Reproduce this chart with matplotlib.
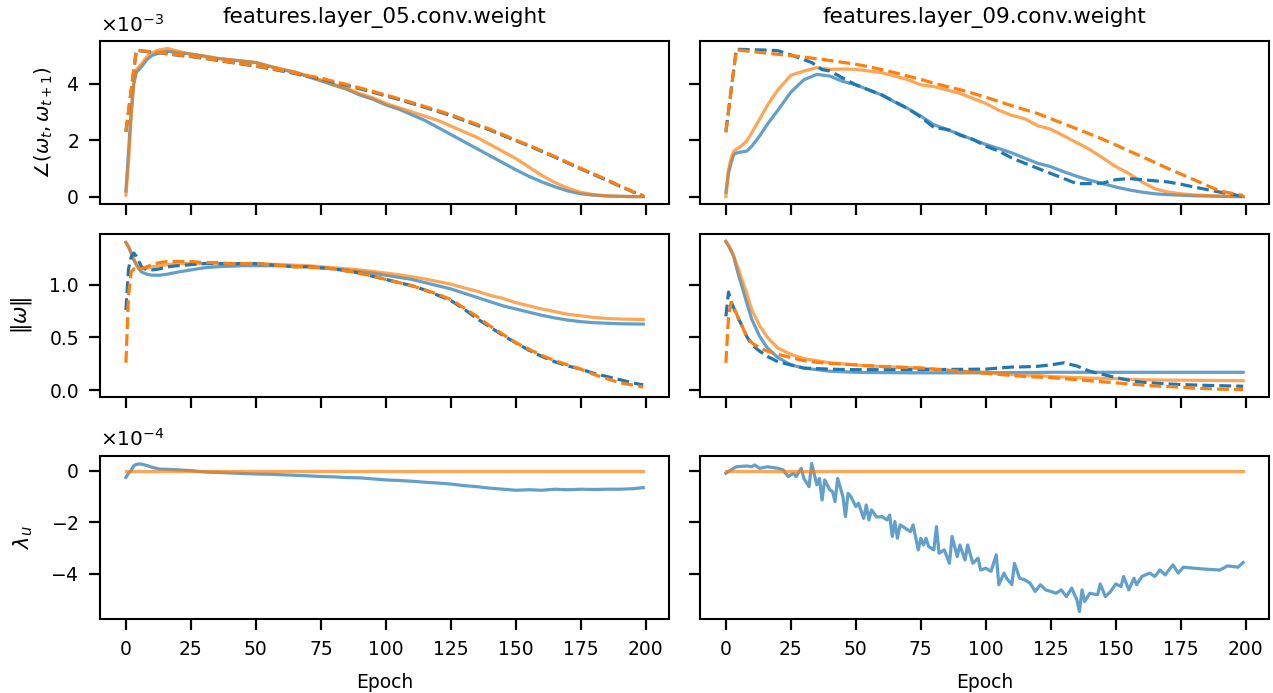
import numpy as np
import matplotlib
matplotlib.use("Agg")
import matplotlib.pyplot as plt

# epochs used for most series
EP = [0, 1, 2, 3, 4, 5, 6, 8, 10, 13, 16, 20, 25, 30, 35, 40, 45, 50, 55, 60,
      65, 70, 75, 80, 85, 90, 95, 100, 105, 110, 115, 120, 125, 130, 135, 140,
      145, 150, 155, 160, 165, 170, 175, 180, 185, 190, 195, 199]
# the dashed angle curves jump from epoch 0 straight to epoch 4
EP_DASH = [0, 4, 5, 6, 8, 10, 13, 16, 20, 25, 30, 35, 40, 45, 50, 55, 60,
           65, 70, 75, 80, 85, 90, 95, 100, 105, 110, 115, 120, 125, 130, 135, 140,
           145, 150, 155, 160, 165, 170, 175, 180, 185, 190, 195, 199]

# ---- layer_05, angle (x1e-3)
ang05_blue = [0.2, 1.6, 3.0, 4.0, 4.4, 4.5, 4.6, 4.85, 5.0, 5.1, 5.15, 5.1, 5.05, 4.98, 4.9, 4.85,
              4.8, 4.75, 4.62, 4.5, 4.4, 4.25, 4.1, 3.95, 3.8, 3.6, 3.45, 3.25, 3.1, 2.9, 2.7,
              2.45, 2.2, 1.95, 1.7, 1.45, 1.2, 0.95, 0.72, 0.52, 0.35, 0.2, 0.1, 0.05, 0.02,
              0.01, 0.0, 0.0]
ang05_orange = [0.05, 1.2, 2.8, 4.0, 4.5, 4.6, 4.7, 4.95, 5.1, 5.2, 5.25, 5.15, 5.05, 4.98, 4.9,
                4.85, 4.8, 4.75, 4.63, 4.52, 4.42, 4.28, 4.13, 3.98, 3.83, 3.65, 3.5, 3.3, 3.15,
                3.0, 2.85, 2.7, 2.5, 2.3, 2.1, 1.85, 1.6, 1.35, 1.05, 0.75, 0.5, 0.3, 0.15,
                0.07, 0.03, 0.01, 0.0, 0.0]
ang05_blue_d = [2.3, 5.18, 5.17, 5.16, 5.14, 5.12, 5.09, 5.06, 5.01, 4.96, 4.9, 4.83, 4.76, 4.69,
                4.62, 4.54, 4.45, 4.36, 4.26, 4.17, 4.05, 3.94, 3.82, 3.7, 3.57, 3.44, 3.3,
                3.16, 3.02, 2.87, 2.7, 2.53, 2.36, 2.17, 1.98, 1.8, 1.6, 1.4, 1.19, 0.98, 0.78,
                0.58, 0.37, 0.17, 0.03]
ang05_orange_d = [2.3, 5.2, 5.18, 5.17, 5.15, 5.13, 5.1, 5.07, 5.02, 4.97, 4.91, 4.84, 4.77,
                  4.7, 4.63, 4.55, 4.47, 4.38, 4.28, 4.2, 4.08, 3.97, 3.85, 3.73, 3.6, 3.47,
                  3.33, 3.19, 3.05, 2.9, 2.73, 2.56, 2.39, 2.2, 2.0, 1.82, 1.62, 1.42, 1.21,
                  1.0, 0.8, 0.6, 0.38, 0.18, 0.03]

# ---- layer_09, angle (x1e-3)
ang09_blue = [0.16, 0.82, 1.2, 1.49, 1.54, 1.57, 1.58, 1.61, 1.79, 2.15, 2.57, 3.06, 3.7, 4.14,
              4.33, 4.27, 4.08, 3.96, 3.78, 3.6, 3.35, 3.12, 2.85, 2.55, 2.38, 2.2, 2.02, 1.85,
              1.7, 1.55, 1.36, 1.18, 1.06, 0.88, 0.72, 0.58, 0.46, 0.34, 0.24, 0.16, 0.1,
              0.07, 0.05, 0.03, 0.02, 0.01, 0.0, 0.0]
ang09_orange = [0.0, 0.94, 1.35, 1.6, 1.68, 1.73, 1.8, 1.97, 2.27, 2.75, 3.24, 3.78, 4.3, 4.45,
                4.57, 4.51, 4.52, 4.51, 4.45, 4.39, 4.27, 4.14, 3.96, 3.9, 3.78, 3.66, 3.48,
                3.3, 3.06, 2.88, 2.76, 2.51, 2.39, 2.15, 1.91, 1.67, 1.37, 1.06, 0.82, 0.52,
                0.28, 0.16, 0.1, 0.06, 0.04, 0.02, 0.01, 0.0]
EP_DASH09 = [0, 4, 8, 12, 16, 20, 26, 33, 37, 40, 45, 50, 55, 60, 70, 75, 80, 85,
             87, 90, 95, 100, 105, 110, 115, 120, 125, 130, 135, 140, 145, 150, 155, 160,
             165, 170, 175, 180, 185, 190, 195, 199]
ang09_blue_d = [2.3, 5.22, 5.21, 5.2, 5.19, 5.17, 4.99, 4.75, 4.5, 4.45, 4.2, 3.96, 3.78,
                3.6, 3.12, 2.82, 2.45, 2.38, 2.33, 2.18, 2.03, 1.79, 1.61, 1.37, 1.18, 1.0,
                0.82, 0.64, 0.46, 0.46, 0.48, 0.6, 0.64, 0.6, 0.56, 0.52, 0.44, 0.34, 0.25,
                0.16, 0.08, 0.0]
EP_DASH09_O = [0, 4, 5, 6, 8, 10, 13, 16, 20, 26, 32, 38, 44, 50, 55, 60, 65, 70, 75, 80,
               85, 90, 95, 100, 105, 110, 115, 120, 125, 130, 135, 140, 145, 150, 155, 160,
               165, 170, 175, 180, 185, 190, 199]
ang09_orange_d = [2.27, 5.2, 5.19, 5.18, 5.16, 5.14, 5.11, 5.08, 5.04, 4.99, 4.92, 4.85, 4.77,
                  4.69, 4.6, 4.5, 4.39, 4.27, 4.15, 4.02, 3.9, 3.79, 3.66, 3.52, 3.37, 3.22,
                  3.08, 2.94, 2.76, 2.58, 2.4, 2.22, 2.03, 1.83, 1.62, 1.42, 1.21, 1.0, 0.8,
                  0.6, 0.4, 0.2, 0.04]

# ---- layer_05, weight norm
nrm05_blue = [1.40, 1.36, 1.3, 1.24, 1.19, 1.15, 1.12, 1.10, 1.09, 1.09, 1.10, 1.12, 1.14, 1.16,
              1.17, 1.175, 1.18, 1.18, 1.18, 1.18, 1.175, 1.17, 1.16, 1.15, 1.14, 1.125, 1.11,
              1.09, 1.07, 1.05, 1.02, 0.99, 0.96, 0.92, 0.88, 0.84, 0.80, 0.77, 0.74, 0.71,
              0.685, 0.665, 0.65, 0.64, 0.635, 0.63, 0.628, 0.627]
nrm05_orange = [1.40, 1.36, 1.3, 1.24, 1.19, 1.16, 1.15, 1.155, 1.17, 1.18, 1.19, 1.2, 1.2, 1.2,
                1.2, 1.2, 1.2, 1.2, 1.195, 1.19, 1.185, 1.18, 1.17, 1.16, 1.15, 1.14, 1.125,
                1.11, 1.095, 1.075, 1.055, 1.03, 1.005, 0.97, 0.94, 0.9, 0.87, 0.83, 0.8, 0.77,
                0.745, 0.72, 0.705, 0.69, 0.68, 0.675, 0.672, 0.67]
nrm05_blue_d = [0.76, 1.15, 1.26, 1.30, 1.27, 1.22, 1.17, 1.14, 1.14, 1.15, 1.17, 1.18, 1.19,
                1.2, 1.2, 1.2, 1.2, 1.2, 1.19, 1.18, 1.17, 1.17, 1.16, 1.15, 1.13, 1.11, 1.08,
                1.05, 1.02, 0.99, 0.95, 0.9, 0.85, 0.77, 0.68, 0.6, 0.52, 0.45, 0.38, 0.32,
                0.27, 0.23, 0.2, 0.16, 0.13, 0.1, 0.07, 0.05]
nrm05_orange_d = [0.26, 0.9, 1.12, 1.15, 1.14, 1.14, 1.15, 1.17, 1.19, 1.21, 1.22, 1.22, 1.22,
                  1.21, 1.21, 1.2, 1.2, 1.2, 1.19, 1.18, 1.17, 1.165, 1.16, 1.15, 1.13, 1.11,
                  1.08, 1.05, 1.02, 0.99, 0.95, 0.91, 0.86, 0.78, 0.7, 0.61, 0.53, 0.45, 0.39,
                  0.33, 0.28, 0.24, 0.2, 0.15, 0.11, 0.07, 0.05, 0.03]

# ---- layer_09, weight norm
nrm09_blue = [1.41, 1.37, 1.32, 1.27, 1.17, 1.08, 1.0, 0.83, 0.67, 0.51, 0.40, 0.31, 0.24, 0.21,
              0.195, 0.18, 0.175, 0.17, 0.168, 0.167, 0.166, 0.165, 0.165, 0.165, 0.165, 0.165,
              0.165, 0.165, 0.166, 0.167, 0.168, 0.169, 0.17, 0.17, 0.17, 0.17, 0.17, 0.17,
              0.17, 0.17, 0.17, 0.17, 0.17, 0.17, 0.17, 0.17, 0.17, 0.17]
nrm09_orange = [1.41, 1.37, 1.33, 1.27, 1.2, 1.14, 1.06, 0.92, 0.76, 0.61, 0.5, 0.4, 0.34, 0.30,
                0.28, 0.26, 0.25, 0.24, 0.23, 0.225, 0.22, 0.215, 0.21, 0.2, 0.19, 0.18, 0.175,
                0.17, 0.16, 0.15, 0.145, 0.14, 0.13, 0.125, 0.12, 0.115, 0.112, 0.11, 0.105,
                0.1, 0.098, 0.096, 0.095, 0.094, 0.093, 0.092, 0.091, 0.09]
nrm09_blue_d = [0.70, 0.93, 0.84, 0.78, 0.72, 0.67, 0.62, 0.51, 0.43, 0.37, 0.32, 0.27, 0.24,
                0.21, 0.205, 0.2, 0.197, 0.195, 0.195, 0.195, 0.195, 0.195, 0.195, 0.196, 0.197,
                0.198, 0.199, 0.2, 0.21, 0.22, 0.222, 0.227, 0.24, 0.26, 0.23, 0.18, 0.15,
                0.12, 0.095, 0.076, 0.068, 0.06, 0.054, 0.05, 0.046, 0.043, 0.04, 0.038]
nrm09_orange_d = [0.26, 0.7, 0.83, 0.79, 0.73, 0.67, 0.62, 0.51, 0.45, 0.40, 0.37, 0.34, 0.31,
                  0.28, 0.265, 0.255, 0.247, 0.24, 0.232, 0.225, 0.22, 0.215, 0.21, 0.2, 0.19,
                  0.18, 0.17, 0.16, 0.15, 0.14, 0.13, 0.125, 0.12, 0.11, 0.1, 0.09, 0.08, 0.07,
                  0.06, 0.05, 0.04, 0.035, 0.03, 0.02, 0.015, 0.01, 0.008, 0.006]

# ---- layer_05, lambda_u (x1e-4)
lam05_blue = [-0.26, -0.1, 0.0, 0.19, 0.24, 0.26, 0.25, 0.2, 0.13, 0.06, 0.05, 0.03, 0.0, -0.05,
              -0.07, -0.09, -0.11, -0.13, -0.14, -0.16, -0.18, -0.2, -0.23, -0.24, -0.27,
              -0.28, -0.32, -0.36, -0.38, -0.41, -0.45, -0.48, -0.52, -0.58, -0.62, -0.68,
              -0.72, -0.76, -0.74, -0.76, -0.72, -0.74, -0.72, -0.73, -0.72, -0.72, -0.7, -0.66]
lam05_orange = [0.0] * len(EP)

# ---- layer_09, lambda_u (x1e-4), noisy so read more densely
LAM09_EP = [0, 2, 4, 8, 10, 11, 13, 16, 20, 22, 24, 26, 27, 29, 30, 32, 33, 35, 36, 37, 38,
            40, 41, 42, 43, 45, 46, 47, 48, 50, 51, 53, 54, 55, 56, 58, 60, 62, 63, 64, 65,
            66, 67, 69, 71, 72, 74, 75, 76, 77, 78, 80, 81, 82, 84, 86, 87, 89, 90, 92, 93,
            95, 97, 98, 100, 102, 104, 105, 107, 108, 110, 111, 113, 115, 117, 119, 121,
            123, 125, 127, 129, 131, 133, 135, 136, 137, 138, 140, 143, 144, 146, 148, 150,
            152, 153, 155, 157, 158, 160, 163, 165, 167, 169, 170, 172, 174, 176, 180, 185,
            190, 193, 197, 199]
lam09_blue = [-0.1, 0.03, 0.15, 0.18, 0.15, 0.22, 0.09, 0.15, 0.09, 0.03, -0.23, -0.1, -0.23,
              0.09, -0.3, -0.62, 0.28, -0.55, -0.3, -1.14, -0.36, -0.75, -0.81, -1.2, -0.3,
              -1.0, -1.78, -0.88, -1.0, -1.39, -1.26, -1.85, -1.33, -1.91, -1.52, -1.8, -1.78,
              -1.91, -1.72, -2.55, -1.97, -2.62, -2.1, -2.23, -2.36, -2.1, -3.07, -2.62, -2.88,
              -2.62, -2.94, -3.07, -2.17, -3.2, -3.07, -3.59, -2.55, -3.33, -2.88, -3.46, -2.88,
              -3.59, -3.39, -3.85, -3.78, -3.9, -3.26, -4.42, -3.97, -4.17, -4.42, -3.59, -4.17,
              -4.23, -4.36, -4.68, -4.42, -4.62, -4.68, -4.75, -4.62, -4.88, -4.55, -5.0, -5.46,
              -4.62, -5.07, -4.75, -4.81, -4.39, -4.88, -4.68, -4.39, -4.49, -4.1, -4.62, -4.17,
              -4.42, -4.1, -3.97, -4.1, -3.85, -4.04, -3.9, -3.65, -3.97, -3.74, -3.78, -3.82,
              -3.85, -3.69, -3.74, -3.56]
lam09_orange = [0.0] * len(EP)

titles = ["features.layer_05.conv.weight", "features.layer_09.conv.weight"]
ylabels = [r"$\angle(\omega_t, \omega_{t+1})$", r"$\Vert\omega\Vert$", r"$\lambda_u$"]

BLUE = "#1f77b4"
ORANGE = "#ff7f0e"
LW = 2.3

fig, axes = plt.subplots(3, 2, figsize=(12.73, 6.93), dpi=100, sharex=True, sharey="row")

lefts = [0.0786, 0.5499]
bottoms = [0.7056, 0.4271, 0.1068]
for r in range(3):
    for c in range(2):
        axes[r][c].set_position([lefts[c], bottoms[r], 0.447, 0.2352])

def draw(ax, ep_s, bs, os_, ep_bd=None, bd=None, ep_od=None, od=None, scale=1.0):
    ax.plot(ep_s[0], np.array(bs) * scale, color=BLUE, lw=LW, alpha=0.7)
    ax.plot(ep_s[1], np.array(os_) * scale, color=ORANGE, lw=LW, alpha=0.7)
    if bd is not None:
        ax.plot(ep_bd, np.array(bd) * scale, color=BLUE, lw=LW, ls="--")
        ax.plot(ep_od, np.array(od) * scale, color=ORANGE, lw=LW, ls="--")

draw(axes[0][0], (EP, EP), ang05_blue, ang05_orange, EP_DASH, ang05_blue_d, EP_DASH, ang05_orange_d, 1e-3)
draw(axes[0][1], (EP, EP), ang09_blue, ang09_orange, EP_DASH09, ang09_blue_d, EP_DASH09_O, ang09_orange_d, 1e-3)
draw(axes[1][0], (EP, EP), nrm05_blue, nrm05_orange, EP, nrm05_blue_d, EP, nrm05_orange_d)
draw(axes[1][1], (EP, EP), nrm09_blue, nrm09_orange, EP, nrm09_blue_d, EP, nrm09_orange_d)
draw(axes[2][0], (EP, EP), lam05_blue, lam05_orange, scale=1e-4)
draw(axes[2][1], (LAM09_EP, EP), lam09_blue, lam09_orange, scale=1e-4)

for r in range(3):
    for c in range(2):
        ax = axes[r][c]
        ax.tick_params(length=7.7, width=1.6, labelsize=13.5, pad=7.5)
        for sp in ax.spines.values():
            sp.set_linewidth(1.5)
        ax.yaxis.offsetText.set_fontsize(14.5)
        ax.yaxis.OFFSETTEXTPAD = 7
axes[0][0].set_ylabel(ylabels[0], fontsize=14, labelpad=8)
axes[1][0].set_ylabel(ylabels[1], fontsize=15, labelpad=11)
axes[2][0].set_ylabel(ylabels[2], fontsize=15, labelpad=11)

for r in (0, 2):
    for c in range(2):
        axes[r][c].ticklabel_format(axis="y", style="sci", scilimits=(0, 0), useMathText=True)
    axes[r][1].yaxis.offsetText.set_visible(False)

axes[0][0].set_yticks([0, 2e-3, 4e-3])
axes[1][0].set_yticks([0.0, 0.5, 1.0])
axes[2][0].set_yticks([0, -2e-4, -4e-4])
axes[2][0].set_xticks([0, 25, 50, 75, 100, 125, 150, 175, 200])

for c in range(2):
    axes[0][c].set_title(titles[c], fontsize=15.5, pad=13)
    axes[2][c].set_xlabel("Epoch", fontsize=13.5, labelpad=10)

fig.savefig("out.png", dpi=100)
